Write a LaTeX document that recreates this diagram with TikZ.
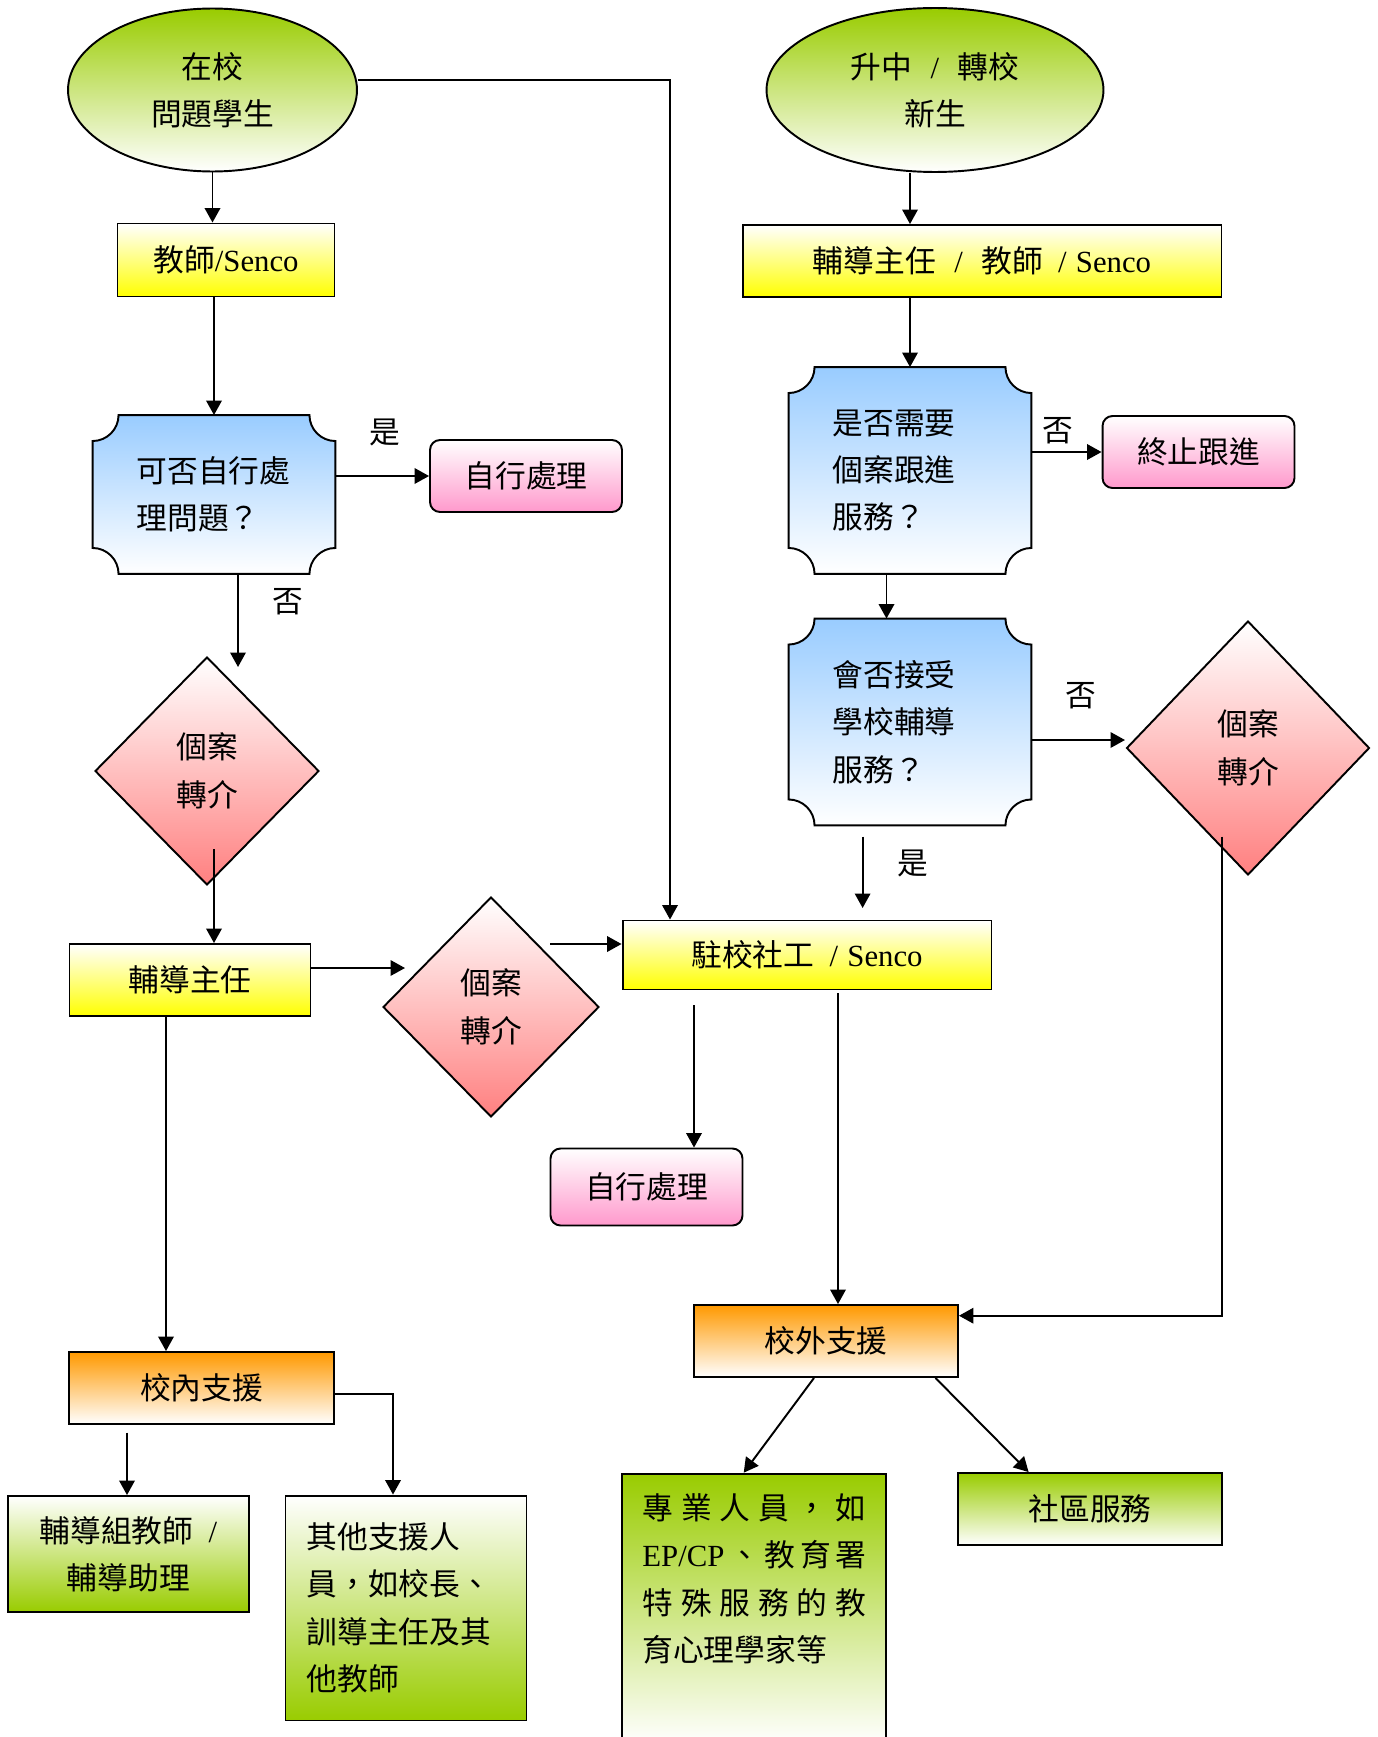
\documentclass[tikz,border=0pt]{standalone}
\usepackage{fontspec}
\setmainfont{Liberation Serif}
\newfontfamily\cjk{Noto Sans CJK TC}
\usetikzlibrary{arrows.meta, shapes.geometric, backgrounds}

\definecolor{leaf}{RGB}{153,204,0}
\definecolor{sky}{RGB}{153,204,255}
\definecolor{rosy}{RGB}{255,153,204}
\definecolor{coral}{RGB}{255,128,128}
\definecolor{amber}{RGB}{255,153,0}

\newcommand{\plaqueframe}[1]{%
  \begin{scope}[on background layer]
    \path[draw=black, line width=1.1pt, top color=sky, bottom color=white]
      ([yshift=-0.52cm]#1.north west) arc[start angle=-90, end angle=0, radius=0.52cm]
      -- ([xshift=-0.52cm]#1.north east) arc[start angle=180, end angle=270, radius=0.52cm]
      -- ([yshift=0.52cm]#1.south east) arc[start angle=90, end angle=180, radius=0.52cm]
      -- ([xshift=0.52cm]#1.south west) arc[start angle=0, end angle=90, radius=0.52cm]
      -- cycle;
  \end{scope}}

\begin{document}
\begin{tikzpicture}[x=0.02cm, y=0.02cm, line width=1.1pt,
    every node/.style={font=\cjk\fontsize{17.5}{27}\selectfont},
    flowbox/.style={draw, rectangle, inner sep=0pt, align=center, minimum height=1.44cm},
    yellowbox/.style={flowbox, top color=white, bottom color=yellow},
    orangebox/.style={flowbox, top color=amber, bottom color=white},
    greenbox/.style={flowbox, top color=white, bottom color=leaf},
    leafbox/.style={flowbox, top color=leaf, bottom color=white},
    pinkbox/.style={flowbox, rounded corners=0.2cm, minimum width=3.84cm, top color=white, bottom color=rosy},
    startnode/.style={draw, ellipse, inner sep=0pt, align=center, top color=leaf, bottom color=white},
    referral/.style={draw, diamond, inner sep=0pt, align=center, top color=white, bottom color=coral},
    plaque/.style={rectangle, text width=3.1cm, inner xsep=0.86cm, inner ysep=0pt, align=left},
    arr/.style={-{Triangle[length=0.29cm, width=0.31cm]}}]
                            \useasboundingbox (0,0) rectangle (1377,-1737);
                            \clip (0,0) rectangle (1377,-1737);

                            \node[startnode, minimum width=5.78cm, minimum height=3.26cm] (stu) at (212.5,-90) {在校\\問題學生};
                            \node[startnode, minimum width=6.74cm, minimum height=3.28cm] (newstu) at (935,-90) {升中\hspace{0.6em}{\rmfamily /}\hspace{0.6em}轉校\\新生};

                            \node[yellowbox, minimum width=4.34cm, minimum height=1.46cm] (tch) at (226,-260) {教師{\rmfamily /Senco}};
                            \node[yellowbox, minimum width=9.58cm] (gdir) at (982,-261) {輔導主任\hspace{0.6em}{\rmfamily /}\hspace{0.6em}教師\hspace{0.5em}{\rmfamily /\hspace{0.3em}Senco}};

                            \node[plaque, minimum height=3.14cm] (dq1) at (214,-494.5) {可否自行處\\理問題？};
                            \plaqueframe{dq1}
                            \node[plaque, minimum height=4.1cm] (dq2) at (910,-470.5) {是否需要\\個案跟進\\服務？};
                            \plaqueframe{dq2}
                            \node[plaque, minimum height=4.1cm] (dq3) at (910,-722) {會否接受\\學校輔導\\服務？};
                            \plaqueframe{dq3}

                            \node[pinkbox] (self1) at (526,-476) {自行處理};
                            \node[pinkbox] (stop) at (1198.5,-452) {終止跟進};
                            \node[pinkbox, minimum height=1.54cm] (self2) at (646.5,-1187) {自行處理};

                            \node[referral, minimum width=4.48cm, minimum height=4.56cm] (ref1) at (207,-771) {個案\\轉介};
                            \node[referral, minimum width=4.32cm, minimum height=4.4cm] (ref2) at (491,-1007) {個案\\轉介};
                            \node[referral, minimum width=4.86cm, minimum height=5.08cm] (ref3) at (1248,-748) {個案\\轉介};

                            \node[yellowbox, minimum width=4.82cm] (gmaster) at (190,-980) {輔導主任};
                            \node[yellowbox, minimum width=7.38cm, minimum height=1.38cm] (ssw) at (807,-955) {駐校社工\hspace{0.5em}{\rmfamily /\hspace{0.3em}Senco}};

                            \node[orangebox, minimum width=5.3cm] (insup) at (201.5,-1388) {校內支援};
                            \node[orangebox, minimum width=5.28cm] (outsup) at (826,-1341) {校外支援};

                            \node[greenbox, minimum width=4.82cm, minimum height=2.32cm] (gteach) at (128.4,-1554) {輔導組教師\hspace{0.5em}{\rmfamily /}\\輔導助理};
                            \node[greenbox, align=left, text width=3.98cm, inner xsep=0.42cm, minimum height=4.5cm] (others) at (406,-1608) {其他支援人\\員，如校長、\\訓導主任及其\\他教師};
                            \node[leafbox, anchor=north, inner xsep=0.4cm, inner ysep=0.4cm] (prof) at (754.35,-1472.7) {\parbox[t][4.6cm][t]{4.48cm}{%
                                \makebox[4.48cm][s]{專\hfill 業\hfill 人\hfill 員\hfill ，\hfill 如}\\
                                \makebox[4.48cm][s]{{\rmfamily EP/CP}\hfill 、\hfill 教\hfill 育\hfill 署}\\
                                \makebox[4.48cm][s]{特\hfill 殊\hfill 服\hfill 務\hfill 的\hfill 教}\\
                                育心理學家等}};
                            \node[leafbox, minimum width=5.28cm] (comm) at (1090,-1509) {社區服務};

                            \node (yes1) at (385,-432) {是};
                            \node (no1) at (288,-602) {否};
                            \node (no2) at (1057.5,-430.5) {否};
                            \node (no3) at (1080.7,-696) {否};
                            \node (yes2) at (913,-863) {是};

                            \coordinate (topturn) at (670,-80);
                            \coordinate (ref1in) at (238,-667);
                            \coordinate (ref1out) at (214,-849);
                            \coordinate (ref2in) at (405,-968);
                            \coordinate (ref2out) at (550,-944);
                            \coordinate (dqmid) at (886.5,-600);
                            \coordinate (ref3in) at (1125,-740);
                            \coordinate (yesout) at (862.6,-836.6);
                            \coordinate (yesend) at (862.6,-908);
                            \coordinate (ref3out) at (1222,-836.6);
                            \coordinate (ref3turn) at (1222,-1315.7);
                            \coordinate (sswout1) at (694,-1005);
                            \coordinate (sswout2) at (838,-993);
                            \coordinate (gmx) at (166,-1100);
                            \coordinate (insout) at (127,-1432.7);
                            \coordinate (insturn) at (393,-1394.3);

                            \draw[arr] (stu.south) -- (stu.south |- tch.north);
                            \draw[arr] (dq1.north |- tch.south) -- (dq1.north);
                            \draw (dq1.east |- self1.west) edge[arr] (self1.west);
                            \draw[arr] (dq1.south -| ref1in) -- (ref1in);
                            \draw[arr] (ref1out) -- (ref1out |- gmaster.north);
                            \draw[arr] (gmaster.east |- ref2in) -- (ref2in);
                            \draw[arr] (ref2out) -- (ref2out -| ssw.west);
                            \draw[arr] (stu.east |- topturn) -- (topturn) -- (topturn |- ssw.north);

                            \draw[arr] (newstu.south -| dq2.north) -- (dq2.north |- gdir.north);
                            \draw[arr] (dq2.north |- gdir.south) -- (dq2.north);
                            \draw (dq2.east |- stop.west) edge[arr] (stop.west);
                            \draw[arr] (dq2.south -| dqmid) -- (dq3.north -| dqmid);
                            \draw[arr] (dq3.east |- ref3in) -- (ref3in);
                            \draw[arr] (yesout) -- (yesend);
                            \draw[arr] (ref3out) -- (ref3turn) -- (ref3turn -| outsup.east);

                            \draw[arr] (sswout1) -- (sswout1 |- self2.north);
                            \draw[arr] (sswout2) -- (sswout2 |- outsup.north);
                            \draw[arr] (gmaster.south -| gmx) -- (insup.north -| gmx);
                            \draw[arr] (insout) -- (insout |- gteach.north);
                            \draw[arr] (insup.east |- insturn) -- (insturn) -- (insturn |- others.north);
                            \draw[arr] ([xshift=-0.24cm]outsup.south) -- ([xshift=-0.213cm]prof.north);
                            \draw[arr] ([xshift=2.19cm]outsup.south) -- ([xshift=-1.228cm]comm.north);
                        \end{tikzpicture}
\end{document}
